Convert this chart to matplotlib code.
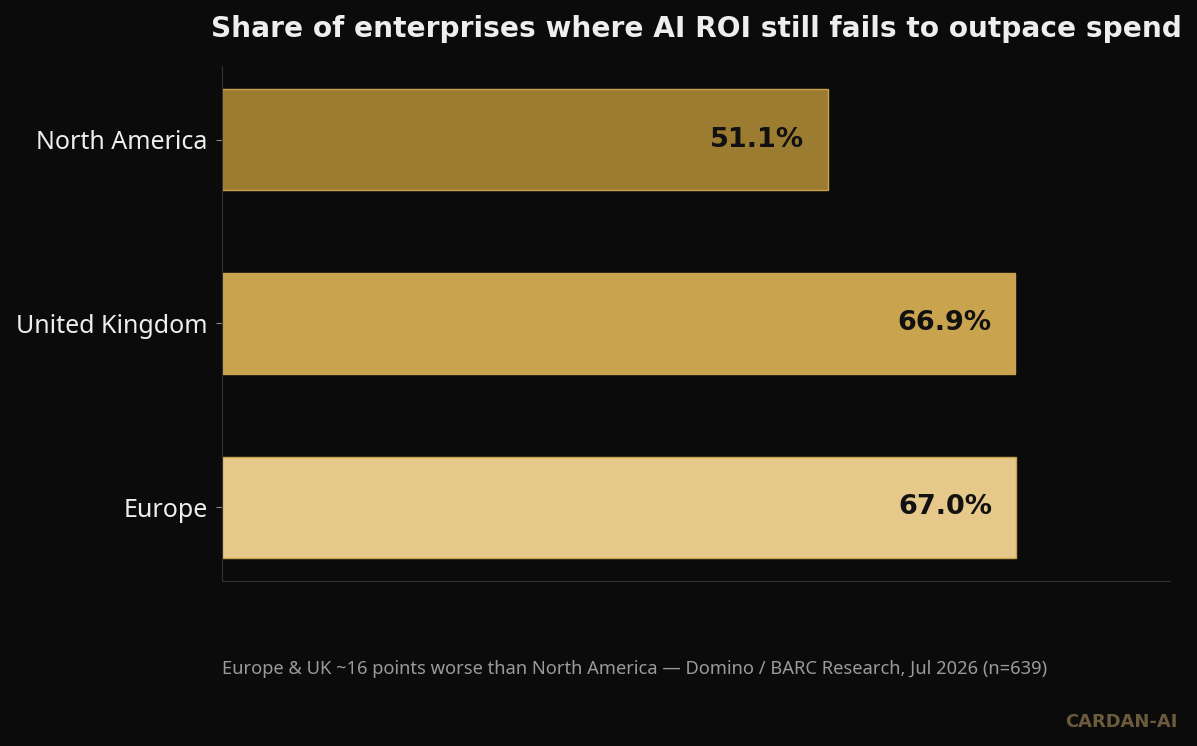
import matplotlib
matplotlib.use("Agg")
from matplotlib import pyplot as plt

regions = ["Europe", "United Kingdom", "North America"]
shares = [67.0, 66.9, 51.1]
barColors = ["#e5c88a", "#c9a34e", "#9c7c31"]

title = "Share of enterprises where AI ROI still fails to outpace spend"
note = "Europe & UK ~16 points worse than North America \u2014 Domino / BARC Research, Jul 2026 (n=639)"

plt.rcParams['font.family'] = ['Noto Sans', 'DejaVu Sans']
boldFont = ['DejaVu Sans']

bg = "#0b0b0b"
fig = plt.figure(figsize=(11.97, 7.46), dpi=100, facecolor=bg)
ax = fig.add_axes([222/1197, 1 - 581/746, (1170-222)/1197, (581-66)/746])
ax.set_facecolor(bg)

ypos = list(range(len(regions)))
ax.barh(ypos, shares, height=0.55, color=barColors, edgecolor="#c9a34e", linewidth=1)

for y, v in zip(ypos, shares):
    ax.text(v - 2.0, y, f"{v:.1f}%", ha="right", va="center", family=boldFont,
            fontsize=19.5, fontweight="bold", color="#111111")

ax.set_xlim(0, 80)
ax.set_ylim(-0.4, 2.4)
ax.set_yticks(ypos)
ax.set_yticklabels(regions, fontsize=18, color="#eeeeee")
ax.set_xticks([])
ax.tick_params(axis="y", colors="#888888", length=4.5, pad=6, labelcolor="#eeeeee")

for side in ["top", "right"]:
    ax.spines[side].set_visible(False)
for side in ["left", "bottom"]:
    ax.spines[side].set_color("#333333")

fig.text(696/1197, 1 - 29/746, title, ha="center", va="center", family=boldFont,
         fontsize=20.2, fontweight="bold", color="#eeeeee")
fig.text(222/1197, 1 - 669/746, note, ha="left", va="center",
         fontsize=13.2, color="#9a9a9a")
fig.text(1178/1197, 1 - 722/746, "CARDAN-AI", ha="right", va="center", family=boldFont,
         fontsize=12.9, fontweight="bold", color="#6b5b3c")

fig.savefig("out.png", dpi=100, facecolor=bg)
